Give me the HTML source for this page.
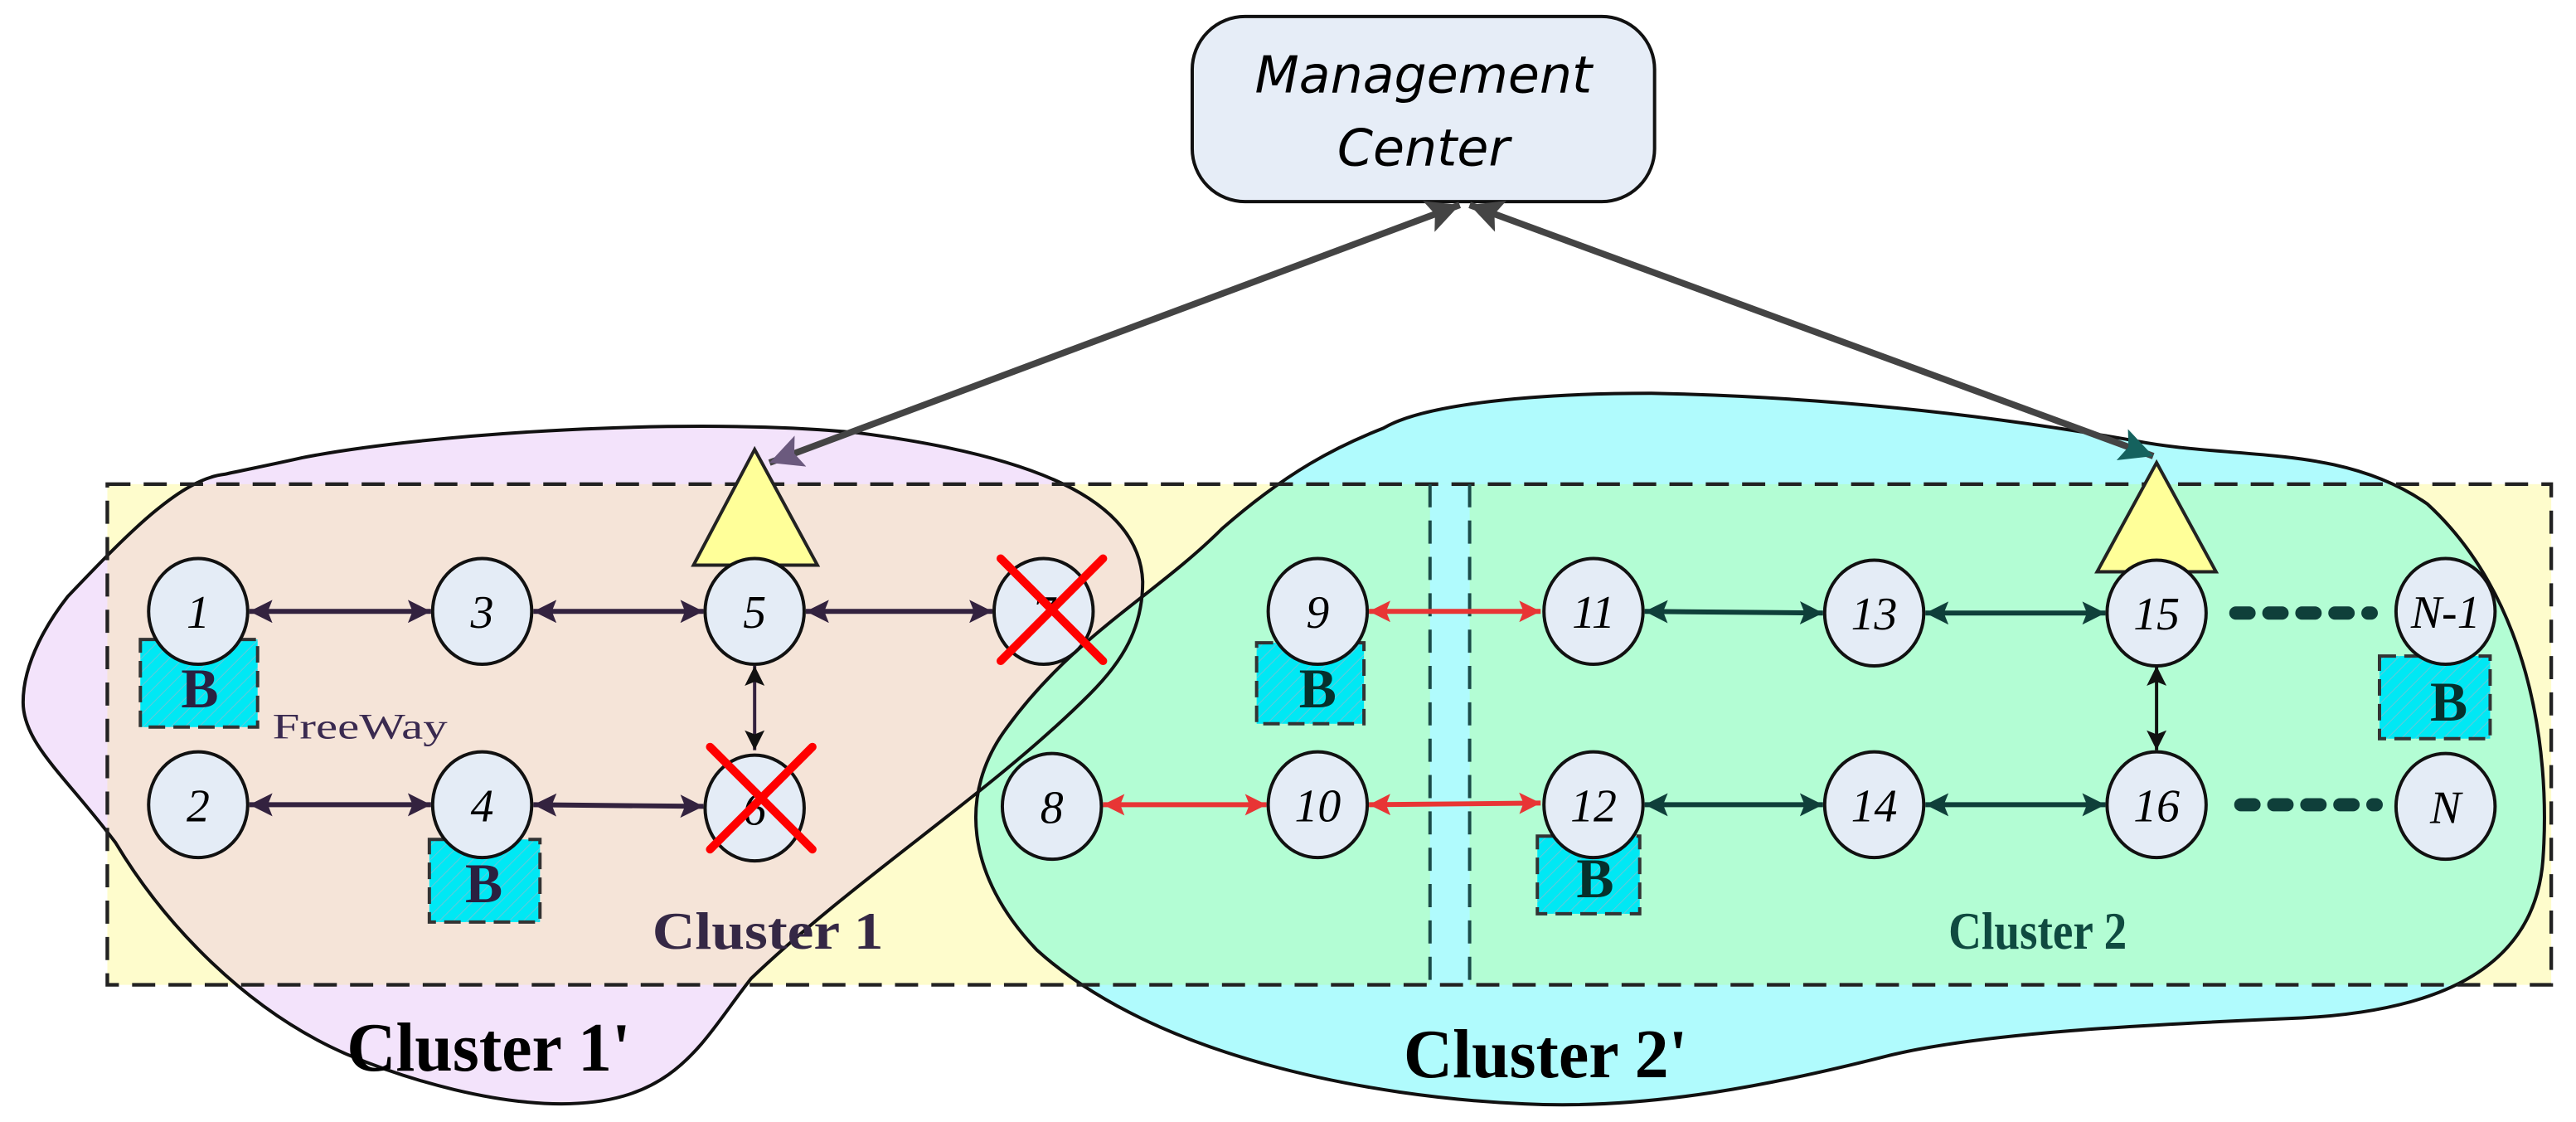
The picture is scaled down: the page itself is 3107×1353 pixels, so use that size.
<!DOCTYPE html>
<html><head><meta charset="utf-8"><style>html,body{margin:0;padding:0;background:#fff;}svg{display:block}</style></head>
<body>
<svg width="3107" height="1353" viewBox="0 0 1560 679" preserveAspectRatio="none" xmlns="http://www.w3.org/2000/svg">
<defs>
<path id="c1p" d="M183,277 C260,262 420,252 520,262 C620,275 690,300 692,352 C692,380 680,400 660,420 C600,480 520,530 455,592 C425,630 410,668 340,668 C300,668 250,655 210,638 C150,612 100,560 70,510 C40,470 14,450 14,425 C14,400 30,375 41,361 C80,320 110,290 136,287 C150,284 170,280 183,277 Z"/>
<path id="c2p" d="M838,259 C860,246 920,238 1000,238 C1100,240 1200,250 1300,268 C1360,278 1420,270 1470,305 C1530,360 1545,450 1540,520 C1535,590 1470,612 1394,616 C1300,620 1200,625 1143,639 C1080,655 1000,672 923,668 C830,664 700,640 628,575 C585,530 580,480 610,440 C650,385 700,360 740,320 C780,285 810,270 838,259 Z"/>
<clipPath id="rc"><rect x="65" y="293" width="1480" height="303"/></clipPath>
<clipPath id="c2c"><use href="#c2p"/></clipPath>
<pattern id="hatch" width="6" height="6" patternUnits="userSpaceOnUse" patternTransform="rotate(45)"><rect width="6" height="6" fill="#00e8f4"/><line x1="0" y1="0" x2="0" y2="6" stroke="#66c8d8" stroke-width="1"/></pattern>
<marker id="mp" viewBox="0 0 10 10" refX="10" refY="5" markerWidth="18" markerHeight="14" markerUnits="userSpaceOnUse" orient="auto-start-reverse"><path d="M0,0 L10,5 L0,10 L2,5 Z" fill="#33223f"/></marker>
<marker id="mt" viewBox="0 0 10 10" refX="10" refY="5" markerWidth="18" markerHeight="14" markerUnits="userSpaceOnUse" orient="auto-start-reverse"><path d="M0,0 L10,5 L0,10 L2,5 Z" fill="#0f3f3a"/></marker>
<marker id="mr" viewBox="0 0 10 10" refX="10" refY="5" markerWidth="16" markerHeight="13" markerUnits="userSpaceOnUse" orient="auto-start-reverse"><path d="M0,0 L10,5 L0,10 L2,5 Z" fill="#e83535"/></marker>
<marker id="mk" viewBox="0 0 10 10" refX="10" refY="5" markerWidth="13" markerHeight="12" markerUnits="userSpaceOnUse" orient="auto-start-reverse"><path d="M0,0 L10,5 L0,10 L2,5 Z" fill="#111"/></marker>
<marker id="mg" viewBox="0 0 10 10" refX="10" refY="5" markerWidth="26" markerHeight="20" markerUnits="userSpaceOnUse" orient="auto-start-reverse"><path d="M0,0 L10,5 L0,10 L2,5 Z" fill="#444"/></marker>
<marker id="mgp" viewBox="0 0 10 10" refX="10" refY="5" markerWidth="26" markerHeight="20" markerUnits="userSpaceOnUse" orient="auto-start-reverse"><path d="M0,0 L10,5 L0,10 L2,5 Z" fill="#6b5a7e"/></marker>
<marker id="mgt" viewBox="0 0 10 10" refX="10" refY="5" markerWidth="26" markerHeight="20" markerUnits="userSpaceOnUse" orient="auto-start-reverse"><path d="M0,0 L10,5 L0,10 L2,5 Z" fill="#15625e"/></marker>
</defs>

<rect x="65" y="293" width="1480" height="303" fill="#fefccc"/>
<use href="#c1p" fill="#f3e3fb"/>
<use href="#c2p" fill="#b0fbfd"/>
<g clip-path="url(#rc)">
<use href="#c1p" fill="#f5e4d8"/>
<use href="#c2p" fill="#b3fdd4"/>
</g>
<rect x="866" y="293" width="24" height="303" fill="#b0fbfd" clip-path="url(#c2c)"/>
<use href="#c1p" fill="none" stroke="#111" stroke-width="2"/>
<use href="#c2p" fill="none" stroke="#111" stroke-width="2"/>
<rect x="65" y="293" width="1480" height="303" fill="none" stroke="#222" stroke-width="2.2" stroke-dasharray="14,8"/>
<line x1="866" y1="293" x2="866" y2="596" stroke="#1a4a48" stroke-width="2" stroke-dasharray="14,8"/>
<line x1="890" y1="293" x2="890" y2="596" stroke="#1a4a48" stroke-width="2" stroke-dasharray="14,8"/>

<rect x="722" y="10" width="280" height="112" rx="32" fill="#e6edf7" stroke="#111" stroke-width="2"/>
<text x="862" y="56" text-anchor="middle" font-family="DejaVu Sans, Liberation Sans, sans-serif" font-style="italic" font-size="31">Management</text>
<text x="862" y="100" text-anchor="middle" font-family="DejaVu Sans, Liberation Sans, sans-serif" font-style="italic" font-size="31">Center</text>

<line x1="466" y1="280" x2="884" y2="124" stroke="#444" stroke-width="4" marker-end="url(#mg)" marker-start="url(#mgp)"/>
<line x1="1304" y1="276" x2="890" y2="124" stroke="#444" stroke-width="4" marker-end="url(#mg)" marker-start="url(#mgt)"/>

<g stroke="#333" stroke-width="2" stroke-dasharray="10,5" fill="url(#hatch)">
<rect x="85" y="387" width="71" height="53"/>
<rect x="260" y="508" width="67" height="50"/>
<rect x="761" y="389" width="65" height="49"/>
<rect x="931" y="506" width="62" height="47"/>
<rect x="1441" y="397" width="67" height="50"/>
</g>
<g font-family="Liberation Serif, serif" font-weight="bold" font-size="34" text-anchor="middle">
<text x="121" y="428" fill="#2a2040">B</text>
<text x="293" y="546" fill="#2a2040">B</text>
<text x="798" y="428" fill="#06302c">B</text>
<text x="966" y="543" fill="#06302c">B</text>
<text x="1483" y="436" fill="#06302c">B</text>
</g>

<polygon points="457,272 420,342 495,342" fill="#ffff99" stroke="#222" stroke-width="2"/>
<polygon points="1306,280 1270,346 1342,346" fill="#ffff99" stroke="#222" stroke-width="2"/>

<g stroke="#33223f" stroke-width="3" marker-start="url(#mp)" marker-end="url(#mp)">
<line x1="151" y1="370" x2="261" y2="370"/>
<line x1="323" y1="370" x2="426" y2="370"/>
<line x1="488" y1="370" x2="601" y2="370"/>
<line x1="151" y1="487" x2="261" y2="487"/>
<line x1="323" y1="487" x2="426" y2="488"/>
</g>
<line x1="457" y1="403" x2="457" y2="454" stroke="#33223f" stroke-width="2" marker-start="url(#mk)" marker-end="url(#mk)"/>
<g stroke="#e83535" stroke-width="3" marker-start="url(#mr)" marker-end="url(#mr)">
<line x1="829" y1="370" x2="933" y2="370"/>
<line x1="668" y1="487" x2="767" y2="487"/>
<line x1="829" y1="487" x2="933" y2="486"/>
</g>
<g stroke="#0f3f3a" stroke-width="3" marker-start="url(#mt)" marker-end="url(#mt)">
<line x1="996" y1="370" x2="1104" y2="371"/>
<line x1="1166" y1="371" x2="1275" y2="371"/>
<line x1="996" y1="487" x2="1104" y2="487"/>
<line x1="1166" y1="487" x2="1275" y2="487"/>
</g>
<line x1="1306" y1="403" x2="1306" y2="454" stroke="#111" stroke-width="2" marker-start="url(#mk)" marker-end="url(#mk)"/>
<g stroke="#0f3f3a" stroke-width="8" stroke-linecap="round" stroke-dasharray="8,12">
<line x1="1354" y1="371" x2="1436" y2="371"/>
<line x1="1357" y1="487" x2="1439" y2="487"/>
</g>

<g fill="#e4ecf6" stroke="#111" stroke-width="2">
<ellipse cx="120" cy="370" rx="30" ry="32"/>
<ellipse cx="292" cy="370" rx="30" ry="32"/>
<ellipse cx="457" cy="370" rx="30" ry="32"/>
<ellipse cx="632" cy="370" rx="30" ry="32"/>
<ellipse cx="120" cy="487" rx="30" ry="32"/>
<ellipse cx="292" cy="487" rx="30" ry="32"/>
<ellipse cx="457" cy="489" rx="30" ry="32"/>
<ellipse cx="637" cy="488" rx="30" ry="32"/>
<ellipse cx="798" cy="370" rx="30" ry="32"/>
<ellipse cx="798" cy="487" rx="30" ry="32"/>
<ellipse cx="965" cy="370" rx="30" ry="32"/>
<ellipse cx="1135" cy="371" rx="30" ry="32"/>
<ellipse cx="1306" cy="371" rx="30" ry="32"/>
<ellipse cx="1481" cy="370" rx="30" ry="32"/>
<ellipse cx="965" cy="487" rx="30" ry="32"/>
<ellipse cx="1135" cy="487" rx="30" ry="32"/>
<ellipse cx="1306" cy="487" rx="30" ry="32"/>
<ellipse cx="1481" cy="488" rx="30" ry="32"/>
</g>
<g font-family="Liberation Serif, serif" font-style="italic" font-size="28" text-anchor="middle" fill="#000">
<text x="120" y="380">1</text><text x="292" y="380">3</text><text x="457" y="380">5</text><text x="632" y="380">7</text>
<text x="120" y="497">2</text><text x="292" y="497">4</text><text x="457" y="499">6</text><text x="637" y="498">8</text>
<text x="798" y="380">9</text><text x="798" y="497">10</text><text x="965" y="380">11</text><text x="1135" y="381">13</text>
<text x="1306" y="381">15</text><text x="1481" y="380">N-1</text><text x="965" y="497">12</text><text x="1135" y="497">14</text>
<text x="1306" y="497">16</text><text x="1481" y="498">N</text>
</g>

<g stroke="#f00" stroke-width="5" stroke-linecap="round">
<line x1="606" y1="338" x2="668" y2="400"/><line x1="668" y1="338" x2="606" y2="400"/>
<line x1="430" y1="452" x2="492" y2="514"/><line x1="492" y1="452" x2="430" y2="514"/>
</g>

<text x="165" y="447" font-family="Liberation Serif, serif" font-size="22" fill="#3a2a50" textLength="106" lengthAdjust="spacingAndGlyphs">FreeWay</text>
<text x="395" y="574" font-family="Liberation Serif, serif" font-weight="bold" font-size="32" fill="#352845" textLength="140" lengthAdjust="spacingAndGlyphs">Cluster 1</text>
<text x="1180" y="574" font-family="Liberation Serif, serif" font-weight="bold" font-size="32" fill="#0f4a40" textLength="108" lengthAdjust="spacingAndGlyphs">Cluster 2</text>
<text x="210" y="648" font-family="Liberation Serif, serif" font-weight="bold" font-size="42" fill="#000" textLength="172" lengthAdjust="spacingAndGlyphs">Cluster 1'</text>
<text x="850" y="652" font-family="Liberation Serif, serif" font-weight="bold" font-size="42" fill="#000" textLength="172" lengthAdjust="spacingAndGlyphs">Cluster 2'</text>
</svg>
</body></html>
